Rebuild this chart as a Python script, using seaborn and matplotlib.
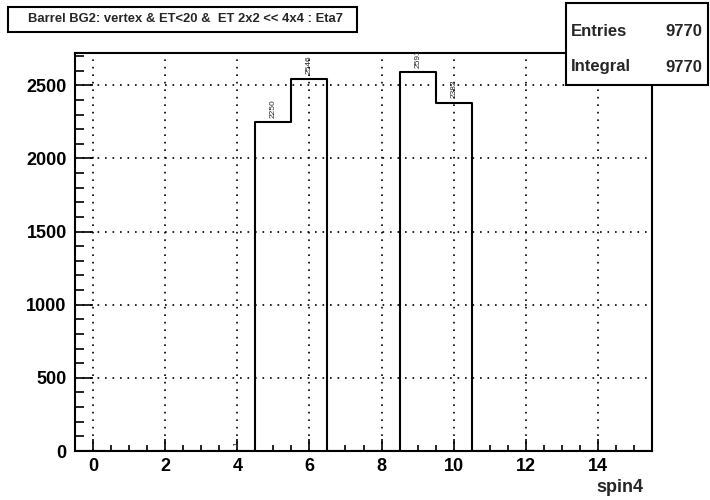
import numpy as np
import pandas as pd
import seaborn as sns
import matplotlib.pyplot as plt
from matplotlib.patches import Rectangle
from matplotlib.ticker import MultipleLocator

# datos del histograma (contenido por bin)
spin = list(range(16))
counts = [0, 0, 0, 0, 1, 2250, 2546, 0, 0, 2591, 2382, 0, 0, 0, 0, 0]
title = "Barrel BG2: vertex & ET<20 &  ET 2x2 << 4x4 : Eta7"
stats_names = ["Entries", "Integral"]
stats_values = ["9770", "9770"]

df = pd.DataFrame({"spin4": spin, "counts": counts})

sns.set_style("ticks")
plt.rcParams["font.family"] = ["Liberation Sans", "DejaVu Sans"]
plt.rcParams["font.weight"] = "bold"

W, H = 710, 500
fig = plt.figure(figsize=(W / 100, H / 100), dpi=100)
ax = fig.add_axes([75 / W, 49 / H, 577 / W, 398 / H])

sns.histplot(data=df, x="spin4", weights="counts", binwidth=1, binrange=(-0.5, 15.5),
             element="step", fill=False, color="black", linewidth=1.5, ax=ax)

# etiquetas de contenido (como TEXT90 en ROOT)
for x, c in zip(spin, counts):
    if c > 0:
        ax.text(x, c + 30, str(c), rotation=90, ha="center", va="bottom",
                fontsize=6, fontweight="normal", zorder=4)

ax.set_xlim(-0.5, 15.5)
ax.set_ylim(0, 2721)
ax.xaxis.set_major_locator(MultipleLocator(2))
ax.xaxis.set_minor_locator(MultipleLocator(0.5))
ax.yaxis.set_major_locator(MultipleLocator(500))
ax.yaxis.set_minor_locator(MultipleLocator(100))
ax.tick_params(axis="both", which="both", direction="in", width=1.2, colors="black",
               labelsize=13)
ax.tick_params(axis="x", which="major", length=9, pad=5)
ax.tick_params(axis="x", which="minor", length=4.5)
ax.tick_params(axis="y", which="major", length=13, pad=6)
ax.tick_params(axis="y", which="minor", length=6.5)
for lab in ax.get_xticklabels() + ax.get_yticklabels():
    lab.set_fontweight("bold")

ax.grid(True, which="major", color="black", linestyle=(0, (1, 3.5)), linewidth=1.2)
ax.set_axisbelow(True)
for s in ax.spines.values():
    s.set_linewidth(1.5)
    s.set_color("black")

ax.set_ylabel("")
ax.set_xlabel("")
fig.text(643 / W, 1 - 488 / H, "spin4", ha="right", va="center", fontsize=13,
         fontweight="bold")

# caja del titulo
fig.patches.append(Rectangle((8 / W, 1 - 32 / H), 349 / W, 25 / H, transform=fig.transFigure,
                             facecolor="white", edgecolor="black", linewidth=1.5))
fig.text(186 / W, 1 - 19.5 / H, title, ha="center", va="center", fontsize=9.4,
         fontweight="bold")

# caja de estadisticas
fig.patches.append(Rectangle((566 / W, 1 - 85 / H), 142 / W, 82 / H, transform=fig.transFigure,
                             facecolor="white", edgecolor="black", linewidth=1.5, zorder=5))
for i, (n, v) in enumerate(zip(stats_names, stats_values)):
    y = 1 - (31 + 36 * i) / H
    fig.text(571 / W, y, n, ha="left", va="center", fontsize=12, fontweight="bold", zorder=6)
    fig.text(702 / W, y, v, ha="right", va="center", fontsize=12, fontweight="bold", zorder=6)

fig.savefig("out.png", dpi=100)
